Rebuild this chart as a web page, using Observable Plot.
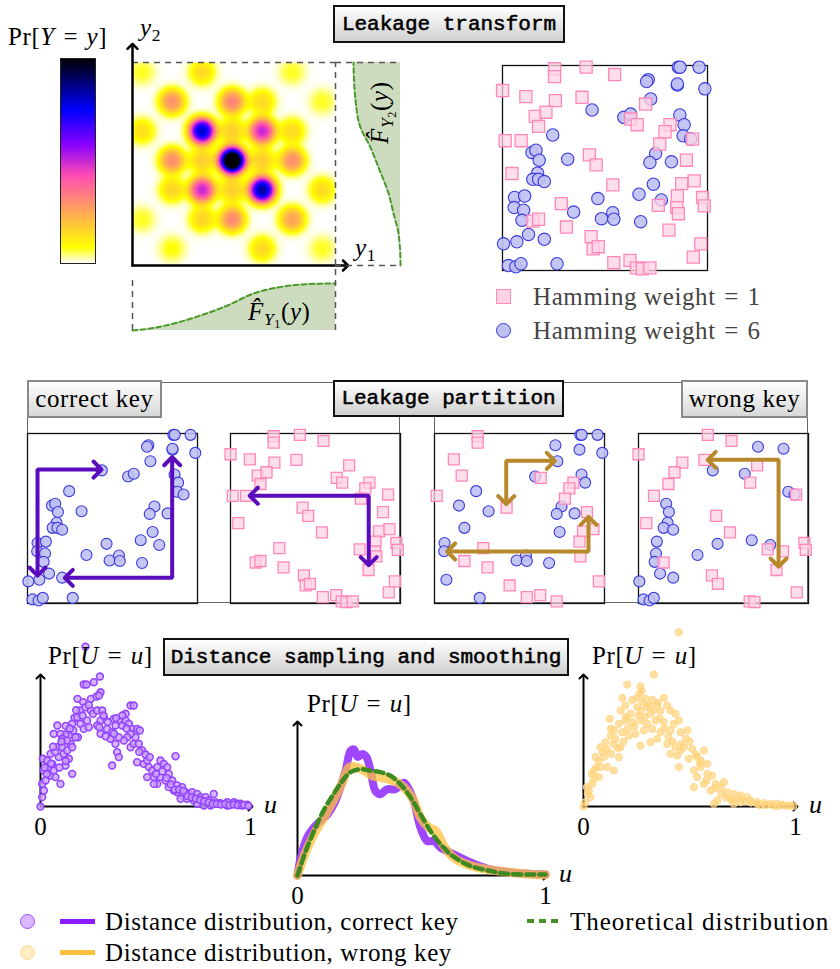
<!DOCTYPE html>
<html><head><meta charset="utf-8">
<script src="https://cdn.jsdelivr.net/npm/d3@7"></script>
<script src="https://cdn.jsdelivr.net/npm/@observablehq/plot@0.6"></script>
<style>
body{margin:0;background:#fff;}
#root{position:relative;width:840px;height:969px;overflow:hidden;font-family:"Liberation Serif",serif;color:#000;background:#fff;}
.tbox{position:absolute;box-sizing:border-box;border:2px solid #111;background:linear-gradient(#ffffff,#d0d0d0);font-family:"Liberation Mono",monospace;font-weight:normal;-webkit-text-stroke:0.55px #000;font-size:21px;display:flex;align-items:center;justify-content:center;white-space:pre;}
.kbox{position:absolute;box-sizing:border-box;border:2px solid #8a8a8a;background:linear-gradient(#ffffff,#d8d8d8);font-size:25px;letter-spacing:0.6px;display:flex;align-items:center;justify-content:center;white-space:nowrap;}
.lbl{position:absolute;font-size:25px;letter-spacing:0.6px;white-space:nowrap;line-height:1;}
.lbl sub{font-size:0.7em;vertical-align:-0.28em;line-height:0;}
.eq{margin:0 0.34em;}
.frame{position:absolute;box-sizing:border-box;border:1px solid #666;}
.sw{position:absolute;box-sizing:border-box;}
</style></head>
<body><div id="root"></div>
<script>
// ---------------- DATA ----------------
// Heat map of Pr[Y=y]: lattice blobs (row, col, weight)
const blobRows    = [0,0,0, 1,1,1,1, 2,2,2,2,2, 3,3,3,3,3, 4,4,4,4,4, 5,5,5,5, 6,6,6];
const blobCols    = [0,2,5, 1,3,4,6, 0,2,3,4,5, 1,2,3,4,5, 1,2,3,4,6, 0,2,3,5, 1,4,6];
const blobWeights = [.07,.15,.07, .29,.32,.15,.07, .14,.8,.17,.5,.15, .3,.17,1.2,.17,.3, .16,.5,.17,.85,.15, .07,.16,.31,.26, .08,.15,.07];

// marginal CDFs
const y2Pos = [0, .01, .158, .256, .355, .483, .581, .68, .813, .92, 1];
const y2Cdf = [0, 0, .043, .149, .255, .468, .638, .851, .957, .99, 1];
const y1Pos = [0, .089, .222, .335, .468, .596, .714, .828, .92, 1];
const y1Cdf = [0, .043, .17, .319, .532, .787, .915, .979, .995, 1];

// leakage samples: [u, v (from top), panel for the wrong key (3 or 4)]
const hw1Points = [
 [.254,.016,3],[.254,.054,3],[.408,.008,4],[.547,.044,4],[0,.122,4],[.114,.152,3],[.258,.171,4],[.388,.155,4],
 [.698,.188,4],[.160,.248,3],[.212,.228,4],[.176,.297,4],[.625,.261,3],[.657,.289,4],[.817,.289,3],[.793,.323,3],
 [.767,.383,3],[.927,.359,4],[.013,.367,3],[.091,.367,4],[.424,.436,3],[.457,.485,4],[.897,.462,3],[.046,.527,4],
 [.538,.582,4],[.874,.576,3],[.935,.563,3],[.853,.636,3],[.976,.644,4],[.984,.685,4],[.760,.682,4],[.850,.693,4],
 [.858,.723,3],[.287,.674,3],[.148,.759,4],[.176,.750,3],[.312,.788,3],[.432,.835,4],[.442,.894,3],[.467,.884,4],
 [.812,.803,4],[.967,.870,3],[.931,.935,4],[.543,.962,3],[.622,.951,3],[.654,.987,4],[.682,.992,4],[.719,.987,3]
];
const hw6Points = [
 [.858,.008,3],[.866,.008,3],[.959,.008,3],[.711,.069,3],[.703,.078,4],[.853,.095,3],[.853,.090,4],[.987,.114,3],
 [.723,.163,3],[.437,.217,4],[.592,.253,3],[.625,.237,4],[.865,.241,3],[.886,.289,3],[.881,.343,4],[.918,.359,4],
 [.245,.339,3],[.144,.424,3],[.163,.413,4],[.179,.462,4],[.318,.457,3],[.747,.429,3],[.719,.473,3],[.824,.470,3],
 [.171,.525,4],[.148,.555,4],[.176,.555,3],[.204,.566,4],[.736,.579,3],[.666,.628,4],[.775,.656,4],[.465,.649,4],
 [.059,.644,3],[.108,.636,4],[.057,.693,3],[.103,.706,4],[.095,.755,4],[.347,.715,4],[.483,.747,3],[.538,.718,3],
 [.543,.750,3],[.674,.762,3],[.127,.824,4],[.070,.860,3],[.005,.870,4],[.204,.848,4],[.029,.976,4],[.065,.982,4],
 [.090,.967,4],[.266,.967,3]
];

// partition arrows, in panel units [u, v]
const arrowsCorrectHW6 = [[[.412,.212],[.059,.212],[.059,.812]], [[.851,.163],[.851,.849],[.243,.849]]];
const arrowsCorrectHW1 = [[[.137,.366],[.813,.366],[.813,.751]]];
const arrowsWrongA = [[[.422,.392],[.422,.161],[.684,.161]], [[.098,.694],[.906,.694],[.906,.514]]];
const arrowsWrongB = [[[.431,.155],[.824,.155],[.824,.759]]];

// distance samples [u, Pr]
const correctSamples = [
[.214,1.23],[.206,.938],[.219,.938],[.254,.956],[.283,1.0],[.286,.879],
[.176,.828],[.203,.803],[.24,.828],[.267,.846],[.279,.854],
[.162,.682],[.151,.636],[.175,.687],[.19,.738],[.214,.764],[.24,.738],[.25,.713],[.27,.738],[.294,.738],[.302,.682],[.286,.662],[.222,.662],
[.156,.585],[.135,.546],[.119,.554],[.08,.623],[.063,.559],[.095,.559],
[.19,.636],[.206,.597],[.178,.533],[.23,.61],[.27,.623],
[.28,.61],[.286,.559],[.317,.597],[.341,.572],[.349,.674],[.357,.623],[.381,.662],[.389,.623],[.405,.713],[.429,.777],[.444,.777],[.405,.662],[.421,.636],[.437,.597],[.46,.597],[.473,.585],[.452,.533],[.429,.559],[.413,.533],[.397,.508],[.373,.533],[.357,.482],[.333,.521],[.365,.418],[.373,.38],[.341,.315],
[.429,.456],[.444,.482],[.468,.482],[.484,.431],[.46,.341],[.492,.328],[.508,.354],[.516,.303],[.532,.277],[.54,.226],[.556,.303],[.571,.354],[.587,.328],[.603,.303],[.643,.387],[.611,.251],[.627,.2],[.595,.2],[.571,.226],[.556,.174],[.54,.174],[.508,.226],
[.651,.162],[.675,.149],[.69,.11],[.675,.085],[.706,.097],[.722,.11],[.746,.097],[.762,.072],[.786,.072],[.825,.097],[.802,.046],[.833,.033],[.857,.026],[.889,.033],[.921,.033],[.937,.021],[.952,.021],[.984,.013],[.778,.008],[.81,.008],[.889,.008],[.651,.11],[.635,.123],[.611,.149],[.667,.059],[.698,.059],[.73,.046],[.746,.021],
[0,0],[.008,.072],[.016,.123],[.008,.174],[.024,.2],[.011,.367],[.016,.277],[.04,.303],[.048,.238],[.056,.328],[.063,.277],[.071,.226],[.048,.405],[.08,.456],[.087,.38],[.103,.456],[.11,.405],[.127,.431],[.135,.367],[.151,.251],[.095,.174],[.119,.315],[.143,.482],[.103,.521],[.127,.508],[.151,.456],[.167,.533],[.032,.354],
[.3,.7],[.32,.65],[.36,.68],[.39,.7],[.41,.6],[.35,.56],[.31,.54],[.2,.7],[.23,.78],[.17,.74],[.12,.62],[.14,.6],[.1,.5],[.07,.42],[.06,.46],[.03,.25],[.02,.3],[.05,.33],[.09,.3],[.12,.35],[.47,.42],[.5,.4],[.52,.38],[.55,.25],[.58,.27],[.6,.22],[.62,.17],[.64,.13],[.66,.13],[.68,.12],[.7,.08],[.72,.07],[.74,.06],[.76,.05],[.78,.04],[.8,.03],[.82,.02],[.84,.02],[.86,.015],[.88,.02],[.9,.01],[.92,.015],[.94,.01],[.96,.008],[.97,.012],[.99,.005]
];
const wrongSamples = [
[.45,1.34],[.332,1.015],[.206,.938],[.269,.923],[.274,.892],[.266,.867],
[.183,.836],[.23,.82],[.253,.836],[.292,.828],[.324,.82],[.379,.836],[.395,.777],[.348,.777],[.3,.764],[.253,.764],[.198,.777],[.175,.738],[.222,.713],[.269,.738],[.316,.713],[.363,.738],[.41,.738],[.434,.713],[.45,.662],[.426,.636],[.379,.649],[.34,.662],[.3,.636],[.269,.662],[.23,.649],[.198,.662],[.167,.636],[.124,.674],[.143,.585],[.183,.572],[.214,.546],[.245,.559],[.285,.585],[.324,.597],[.363,.572],[.41,.585],[.458,.572],[.49,.585],[.316,.495],[.269,.469],[.348,.521],[.395,.482],[.434,.456],[.474,.456],[.513,.443],[.568,.431],[.536,.38],[.497,.367],[.45,.303],[.41,.405],[.442,.392],
[.128,.546],[.104,.495],[.143,.482],[.08,.456],[.057,.38],[.096,.38],[.128,.405],[.167,.38],[.175,.456],[.08,.303],[.049,.277],[.112,.303],[.073,.226],[.041,.174],[.025,.123],[.033,.072],[.008,.033],[0,0],[.049,.213],[.016,.149],[.143,.277],
[.521,.277],[.552,.303],[.584,.251],[.536,.226],[.568,.174],[.607,.238],[.623,.174],[.647,.149],[.521,.149],[.599,.123],[.662,.187],[.678,.11],[.709,.097],[.74,.085],[.772,.072],[.693,.059],[.788,.046],[.819,.033],[.85,.026],[.881,.021],[.912,.021],[.943,.013],[.975,.008],[.615,.021],[.631,.046],[.74,.033],[.835,.008],[.912,0],[.709,.021],
[.482,.521],[.458,.431],[.552,.354],[.584,.328],
[.15,.52],[.16,.45],[.19,.5],[.21,.6],[.24,.62],[.26,.7],[.29,.69],[.31,.78],[.33,.74],[.36,.68],[.38,.6],[.4,.54],[.42,.5],[.46,.48],[.5,.5],[.53,.4],[.55,.33],[.58,.2],[.62,.14],[.65,.1],[.67,.07],[.7,.05],[.73,.06],[.76,.04],[.79,.03],[.82,.02],[.86,.012],[.89,.01],[.93,.01],[.96,.005],[.99,.003],[.06,.3],[.09,.42],[.11,.44],[.13,.6],[.2,.69],[.28,.8],[.35,.8],[.04,.25],[.02,.1],[.07,.35]
];

// smoothed distributions [u, Pr]
const correctCurve = [[0,0],[.012,.11],[.039,.25],[.066,.315],[.093,.36],[.12,.40],[.147,.47],[.173,.58],[.194,.69],[.214,.82],[.227,.83],[.243,.78],[.261,.80],[.278,.78],[.297,.67],[.314,.557],[.335,.535],[.361,.568],[.395,.568],[.429,.61],[.449,.568],[.469,.49],[.496,.315],[.523,.227],[.55,.227],[.577,.183],[.617,.15],[.657,.117],[.711,.077],[.778,.04],[.872,.018],[.953,.01],[1,.006]];
const wrongCurve = [[0,0],[.027,.13],[.066,.27],[.106,.38],[.147,.50],[.18,.61],[.207,.71],[.234,.715],[.267,.69],[.301,.656],[.335,.645],[.368,.634],[.402,.612],[.442,.557],[.469,.49],[.496,.381],[.53,.315],[.557,.293],[.59,.194],[.63,.117],[.684,.073],[.765,.04],[.872,.018],[.953,.007],[1,.005]];
const theoreticalCurve = [[0,0],[.033,.16],[.066,.29],[.106,.43],[.147,.54],[.18,.62],[.214,.68],[.254,.70],[.294,.69],[.335,.68],[.375,.656],[.415,.60],[.456,.513],[.496,.403],[.536,.293],[.577,.205],[.617,.139],[.657,.095],[.698,.062],[.765,.033],[.846,.011],[.953,.007],[1,.006]];
const uTicks = [0, 1];

// ---------------- HELPERS ----------------
const root = document.getElementById("root");
function put(node, left, top) {
  node.style.position = "absolute"; node.style.left = left + "px"; node.style.top = top + "px";
  root.appendChild(node); return node;
}
function div(cls, html, left, top, w, h, extra) {
  const d = document.createElement("div");
  d.className = cls; d.innerHTML = html;
  if (w != null) d.style.width = w + "px";
  if (h != null) d.style.height = h + "px";
  if (extra) Object.assign(d.style, extra);
  return put(d, left, top);
}
const svgStyle = {overflow: "visible", background: "transparent", fontFamily: "'Liberation Serif', serif"};

// gnuplot2 colormap (reversed: 0 = white, 1 = black)
function gnuplot2(t) {
  const c = v => Math.max(0, Math.min(1, v));
  const r = c(t / 0.32 - 0.78125), g = c(2 * t - 0.84);
  const b = c(t < 0.25 ? 4 * t : t < 0.42 ? 1 : t < 0.92 ? -2 * t + 1.84 : t / 0.08 - 11.5);
  return d3.rgb(r * 255, g * 255, b * 255).formatHex();
}
const heatColor = {type: "linear", domain: [0, 1], clamp: true, interpolate: t => gnuplot2(1 - t)};

// ---------------- TOP LEFT: colour bar + heat map ----------------
put(Plot.plot({
  width: 35, height: 205, margin: 0, style: svgStyle,
  x: {domain: [0, 1], axis: null}, y: {domain: [0, 1], axis: null}, color: heatColor,
  marks: [
    Plot.raster({x1: 0, x2: 1, y1: 0, y2: 1, fill: (x, y) => y, pixelSize: 1}),
    Plot.frame({stroke: "#222", strokeWidth: 1})
  ]
}), 60, 58);

const blobs = blobRows.map((r, i) => ({r, c: blobCols[i], w: blobWeights[i]}));
const colDom = [-0.32, 6.44], rowDom = [-0.33, 6.57];
const colPx = 30, rowPx = 29.4, blobRadius = 13, blobPower = 2.6;
function density(x, y) {
  let s = 0;
  for (const b of blobs) {
    const dx = (x - b.c) * colPx, dy = (y - b.r) * rowPx;
    s += b.w * Math.exp(-Math.pow(Math.sqrt(dx * dx + dy * dy) / blobRadius, blobPower));
  }
  return s;
}
const axisTopRow = rowDom[0] - 16 / rowPx, axisEndCol = colDom[1] + 10 / colPx;
put(Plot.plot({
  width: 243, height: 235, marginLeft: 20, marginTop: 22, marginRight: 20, marginBottom: 10, style: svgStyle,
  x: {domain: colDom, axis: null}, y: {domain: [rowDom[1], rowDom[0]], axis: null}, color: heatColor,
  marks: [
    Plot.raster({x1: colDom[0], x2: colDom[1], y1: rowDom[0], y2: rowDom[1], fill: density, pixelSize: 1}),
    Plot.ruleY([rowDom[0]], {x1: colDom[0], x2: colDom[1], stroke: "#555", strokeWidth: 1.5, strokeDasharray: "6,5"}),
    Plot.line([[colDom[0], rowDom[1]], [colDom[0], axisTopRow]], {stroke: "#000", strokeWidth: 2.5, markerEnd: "arrow"}),
    Plot.line([[colDom[0], rowDom[1]], [axisEndCol, rowDom[1]]], {stroke: "#000", strokeWidth: 2.5, markerEnd: "arrow"})
  ]
}), 112, 40);

const y2Data = y2Pos.map((t, i) => ({t, F: y2Cdf[i]}));
const y1Data = y1Pos.map((t, i) => ({t, F: y1Cdf[i]}));
const margMax = 65 / 47;
const greenFill = "#cddcbf", greenLine = "#4a9a2a";
put(Plot.plot({
  width: 65, height: 203, margin: 0, style: svgStyle,
  x: {domain: [margMax, 0], axis: null}, y: {domain: [0, 1], axis: null},
  marks: [
    Plot.areaX(y2Data, {y: "t", x: "F", fill: greenFill, curve: "monotone-y"}),
    Plot.line(y2Data, {x: "F", y: "t", stroke: greenLine, strokeWidth: 2, strokeDasharray: "5,3", curve: "monotone-y"}),
    Plot.ruleY([1], {x1: margMax, x2: 0, stroke: "#555", strokeWidth: 1.5, strokeDasharray: "6,5"}),
    Plot.ruleY([0], {x1: margMax, x2: 0, stroke: "#555", strokeWidth: 1.5, strokeDasharray: "6,5"}),
    Plot.ruleX([margMax], {y1: 0, y2: 1, stroke: "#555", strokeWidth: 1.5, strokeDasharray: "6,5"})
  ]
}), 335, 62);

put(Plot.plot({
  width: 203, height: 65, margin: 0, style: svgStyle,
  x: {domain: [0, 1], axis: null}, y: {domain: [0, margMax], axis: null},
  marks: [
    Plot.areaY(y1Data, {x: "t", y: "F", fill: greenFill, curve: "monotone-x"}),
    Plot.line(y1Data, {x: "t", y: "F", stroke: greenLine, strokeWidth: 2, strokeDasharray: "5,3", curve: "monotone-x"}),
    Plot.ruleX([0], {y1: 0, y2: 55 / 47, stroke: "#555", strokeWidth: 1.5, strokeDasharray: "6,5"}),
    Plot.ruleX([1], {y1: 0, y2: margMax, stroke: "#555", strokeWidth: 1.5, strokeDasharray: "6,5"})
  ]
}), 132, 265);

div("lbl", 'Pr[<i>Y</i><span class="eq">=</span><i>y</i>]', 8, 24);
div("lbl", '<i>y</i><sub>2</sub>', 140, 15);
div("lbl", '<i>y</i><sub>1</sub>', 355, 235);
div("lbl", '<i>F̂</i><sub><i>Y</i><sub>1</sub></sub>(<i>y</i>)', 248, 299);
div("lbl", '<i>F̂</i><sub><i>Y</i><sub>2</sub></sub>(<i>y</i>)', 348, 100, null, null, {transform: "rotate(-90deg)", transformOrigin: "center"});

// ---------------- scatter helpers ----------------
const pinkFill = "#ffd3e6", pinkStroke = "#ff88bb", blueFill = "#bfc0f2", blueStroke = "#3a3adc";
function scatter(points, size, arrows, arrowColor, sq, rc) {
  const sqs = points.filter(d => d.kind === 1), circ = points.filter(d => d.kind === 6);
  const marks = [
    Plot.frame({stroke: "#111", strokeWidth: 1.3}),
    Plot.dot(circ, {x: "u", y: "v", r: rc, fill: blueFill, stroke: blueStroke, strokeWidth: 1.1, fillOpacity: 0.9}),
    Plot.dot(sqs, {x: "u", y: "v", r: sq, symbol: "square", fill: pinkFill, stroke: pinkStroke, strokeWidth: 1.3, fillOpacity: 0.75})
  ];
  for (const a of arrows) marks.push(Plot.line(a, {stroke: arrowColor, strokeWidth: 4, strokeLinejoin: "miter", markerStart: "arrow-reverse", markerEnd: "arrow"}));
  return Plot.plot({width: size, height: size, margin: 0, style: svgStyle,
    x: {domain: [0, 1], axis: null}, y: {domain: [0, 1], reverse: true, axis: null}, marks});
}
const allPoints = [
  ...hw1Points.map(([u, v, g]) => ({u, v, g, kind: 1})),
  ...hw6Points.map(([u, v, g]) => ({u, v, g, kind: 6}))
];
put(scatter(allPoints, 205, [], null, 6.8, 6.2), 502, 65);

// legend (Hamming weight)
div("sw", "", 496, 289, 15, 15, {background: pinkFill, border: "1.3px solid " + pinkStroke});
div("sw", "", 496, 323, 15, 15, {background: blueFill, border: "1.2px solid " + blueStroke, borderRadius: "50%"});
div("lbl", 'Hamming weight<span class="eq">=</span>1', 533, 284, null, null, {color: "#444"});
div("lbl", 'Hamming weight<span class="eq">=</span>6', 533, 318, null, null, {color: "#444"});

// ---------------- MIDDLE: partition ----------------
div("frame", "", 27, 382, 373, 221);
div("frame", "", 434, 382, 374, 221);
const purpleArrow = "#5a0cbc", goldArrow = "#b8892b";
put(scatter(allPoints.filter(d => d.kind === 6), 170, arrowsCorrectHW6, purpleArrow, 6.2, 5.5), 27, 433);
put(scatter(allPoints.filter(d => d.kind === 1), 170, arrowsCorrectHW1, purpleArrow, 6.2, 5.5), 230, 433);
put(scatter(allPoints.filter(d => d.g === 3), 170, arrowsWrongA, goldArrow, 6.2, 5.5), 434, 433);
put(scatter(allPoints.filter(d => d.g === 4), 170, arrowsWrongB, goldArrow, 6.2, 5.5), 638, 433);

div("tbox", "Leakage transform", 333, 5, 232, 38);
div("tbox", "Leakage partition", 333, 380, 231, 37);
div("kbox", "correct key", 27, 380, 135, 38);
div("kbox", "wrong key", 681, 380, 127, 38);

// ---------------- BOTTOM: distance distributions ----------------
function axesMarks() {
  return [
    Plot.line([[0, 0], [1, 0]], {stroke: "#000", strokeWidth: 2, markerEnd: "arrow"}),
    Plot.line([[0, 0], [0, 1]], {stroke: "#000", strokeWidth: 2, markerEnd: "arrow"}),
    Plot.text(uTicks, {x: d => d, y: 0, text: d => String(d), dy: 20, fontSize: 25}),
    Plot.text(["u"], {x: 1, y: 0, text: d => d, dx: 20, dy: -2, fontSize: 26, fontStyle: "italic"})
  ];
}
function distPlot(w, h, extra) {
  return Plot.plot({width: w, height: h, marginLeft: 20, marginRight: 40, marginBottom: 30, marginTop: extra.top,
    style: svgStyle, x: {domain: [0, 1], axis: null}, y: {domain: [0, 1], axis: null}, marks: extra.marks});
}
put(distPlot(270, 210, {top: 50, marks: [
  ...axesMarks(),
  Plot.dot(correctSamples, {x: d => d[0], y: d => d[1], r: 3.4, fill: "#c9a2ff", fillOpacity: 0.8, stroke: "#9545ff", strokeWidth: 1.6})
]}), 20, 626);

put(distPlot(308, 205, {top: 23, marks: [
  ...axesMarks(),
  Plot.line(correctCurve, {x: d => d[0], y: d => d[1], stroke: "#9a3cff", strokeWidth: 8, strokeOpacity: 0.95, curve: "catmull-rom", strokeLinecap: "round", strokeLinejoin: "round"}),
  Plot.line(wrongCurve, {x: d => d[0], y: d => d[1], stroke: "#ffc13d", strokeWidth: 9, strokeOpacity: 0.75, curve: "catmull-rom", strokeLinecap: "round", strokeLinejoin: "round"}),
  Plot.line(theoreticalCurve, {x: d => d[0], y: d => d[1], stroke: "#3d8a20", strokeWidth: 4.5, strokeDasharray: "8,5", curve: "catmull-rom"})
]}), 277, 700);

put(distPlot(272, 210, {top: 50, marks: [
  ...axesMarks(),
  Plot.dot(wrongSamples, {x: d => d[0], y: d => d[1], r: 3.6, fill: "#ffcf6e", fillOpacity: 0.65, stroke: "#ffd98f", strokeWidth: 1})
]}), 563, 626);

div("tbox", "Distance sampling and smoothing", 163, 638, 406, 38);
div("lbl", 'Pr[<i>U</i><span class="eq">=</span><i>u</i>]', 48, 643);
div("lbl", 'Pr[<i>U</i><span class="eq">=</span><i>u</i>]', 307, 691);
div("lbl", 'Pr[<i>U</i><span class="eq">=</span><i>u</i>]', 592, 643);

// bottom legend
div("sw", "", 20, 914, 15, 15, {background: "#d8b8ff", border: "1.5px solid #9a4dff", borderRadius: "50%"});
div("sw", "", 60, 919, 35, 5, {background: "#8a1cff"});
div("lbl", "Distance distribution, correct key", 105, 909);
div("sw", "", 20, 945, 15, 15, {background: "#ffedc2", border: "1.5px solid #ffd98f", borderRadius: "50%"});
div("sw", "", 60, 950, 35, 5, {background: "#ffc13d"});
div("lbl", "Distance distribution, wrong key", 105, 940);
div("sw", "", 527, 919, 35, 4, {background: "repeating-linear-gradient(90deg,#4a8f2a 0 7px,transparent 7px 12px)"});
div("lbl", "Theoretical distribution", 570, 909, null, null, {letterSpacing: "1px"});
</script>
</body></html>
